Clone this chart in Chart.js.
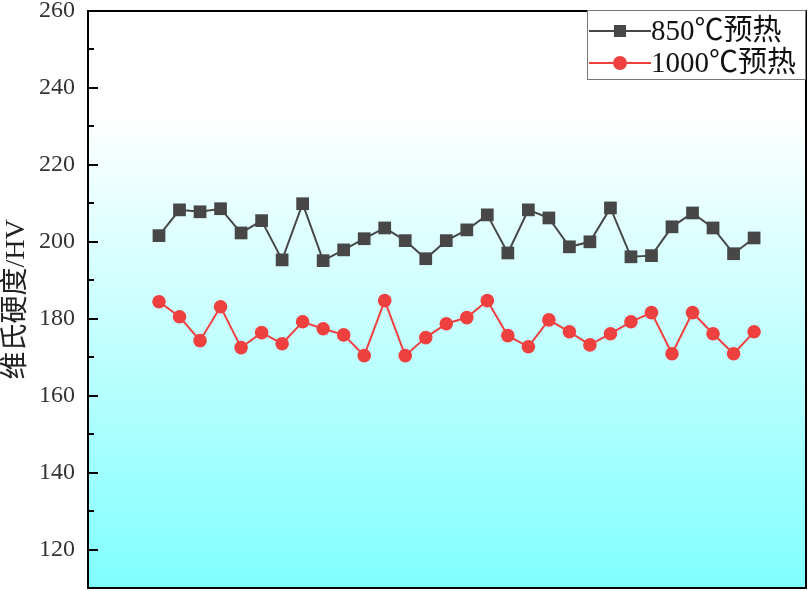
<!DOCTYPE html>
<html>
<head>
<meta charset="utf-8">
<script src="https://cdn.jsdelivr.net/npm/chart.js@4"></script>
<style>
  html, body { margin: 0; padding: 0; background: #fff; overflow: hidden; }
  #wrap { position: relative; width: 809px; height: 591px; }
  canvas { display: block; }
</style>
</head>
<body>
<div id="wrap"><canvas id="grafico"></canvas></div>
<script>
// dados
const pontos = [1,2,3,4,5,6,7,8,9,10,11,12,13,14,15,16,17,18,19,20,21,22,23,24,25,26,27,28,29,30];
const dureza850 = [201.6,208.3,207.8,208.6,202.3,205.5,195.3,209.9,195.1,197.9,200.8,203.6,200.3,195.6,200.3,
                   203.1,207.0,197.1,208.3,206.2,198.7,200.0,208.8,196.1,196.4,203.9,207.5,203.6,196.9,201.0];
const dureza1000 = [184.4,180.5,174.3,183.1,172.5,176.4,173.5,179.2,177.4,175.8,170.4,184.7,170.4,175.1,178.7,
                    180.3,184.7,175.6,172.7,179.7,176.6,173.2,176.1,179.2,181.6,170.9,181.6,176.1,170.9,176.6];
const rotulos = ['850℃预热', '1000℃预热'];
const tituloY = '维氏硬度/HV';

const fonteSerif = '"Liberation Serif", "Noto Sans CJK SC", serif';

const fundo = {
  id: 'fundo',
  beforeDraw(chart) {
    const { ctx, chartArea: a } = chart;
    const g = ctx.createLinearGradient(0, a.top, 0, a.bottom);
    g.addColorStop(0, '#ffffff');
    g.addColorStop(0.18, '#ffffff');
    g.addColorStop(1, '#80ffff');
    ctx.save();
    ctx.fillStyle = g;
    ctx.fillRect(a.left, a.top, a.right - a.left, a.bottom - a.top);
    ctx.restore();
  }
};

const moldura = {
  id: 'moldura',
  afterDatasetsDraw(chart) {
    const { ctx, chartArea: a } = chart;
    const y = chart.scales.y;
    ctx.save();
    ctx.strokeStyle = '#000';
    ctx.lineWidth = 2;
    ctx.strokeRect(a.left, a.top, a.right - a.left, a.bottom - a.top);
    // ticks para dentro
    for (let v = 110; v <= 260; v += 10) {
      const py = Math.round(y.getPixelForValue(v));
      const len = (v % 20 === 0) ? 10 : 6;
      ctx.beginPath();
      ctx.moveTo(a.left, py);
      ctx.lineTo(a.left + len, py);
      ctx.stroke();
    }
    ctx.restore();
  }
};

const legenda = {
  id: 'legenda',
  afterDraw(chart) {
    const { ctx, chartArea: a } = chart;
    const x0 = 587, y0 = a.top - 1, w = a.right - x0, h = 70;
    ctx.save();
    ctx.fillStyle = '#fff';
    ctx.fillRect(x0, y0, w, h);
    ctx.strokeStyle = '#777';
    ctx.lineWidth = 1;
    ctx.strokeRect(x0 + 0.5, y0 + 0.5, w - 1, h - 1);
    chart.data.datasets.forEach((ds, i) => {
      const cy = y0 + 21 + i * 32;
      ctx.strokeStyle = ds.borderColor;
      ctx.lineWidth = 2;
      ctx.beginPath();
      ctx.moveTo(x0 + 2, cy);
      ctx.lineTo(x0 + 64, cy);
      ctx.stroke();
      ctx.fillStyle = ds.borderColor;
      if (ds.pointStyle === 'rect') {
        ctx.fillRect(x0 + 27, cy - 6, 12, 12);
      } else {
        ctx.beginPath();
        ctx.arc(x0 + 33, cy, 7, 0, Math.PI * 2);
        ctx.fill();
      }
      ctx.fillStyle = '#111';
      ctx.font = '29px ' + fonteSerif;
      ctx.textBaseline = 'middle';
      ctx.fillText(ds.label, x0 + 64, cy + 1);
    });
    ctx.restore();
  }
};

const ctx = document.getElementById('grafico').getContext('2d');
const grafico = new Chart(ctx, {
  type: 'line',
  data: {
    datasets: [{
      label: rotulos[0],
      data: pontos.map((p, i) => ({ x: p, y: dureza850[i] })),
      borderColor: '#474747',
      backgroundColor: '#474747',
      borderWidth: 2,
      pointStyle: 'rect',
      pointRadius: 9,
      pointBorderWidth: 0,
      tension: 0
    }, {
      label: rotulos[1],
      data: pontos.map((p, i) => ({ x: p, y: dureza1000[i] })),
      borderColor: '#ef4040',
      backgroundColor: '#ef4040',
      borderWidth: 2,
      pointStyle: 'circle',
      pointRadius: 6.8,
      pointBorderWidth: 0,
      tension: 0
    }]
  },
  options: {
    responsive: true,
    maintainAspectRatio: false,
    animation: false,
    layout: { padding: { top: 0, left: 0, right: 3, bottom: 0 }, autoPadding: false },
    plugins: { legend: { display: false }, tooltip: { enabled: false } },
    scales: {
      x: {
        type: 'linear',
        min: -2.46,
        max: 32.53,
        display: false
      },
      y: {
        min: 110,
        max: 260,
        afterFit(scale) {
          scale.width = 88;
          scale.paddingTop = 11;
          scale.paddingBottom = 3;
        },
        grid: { display: false, drawTicks: false, tickLength: 0 },
        border: { display: false },
        ticks: {
          stepSize: 20,
          padding: 13,
          color: '#333',
          font: { family: fonteSerif, size: 24 },
          callback: v => (v % 20 === 0 && v >= 120) ? v : ''
        },
        title: {
          display: true,
          text: tituloY,
          color: '#222',
          font: { family: fonteSerif, size: 28 },
          padding: { top: 0, bottom: 0 }
        }
      }
    }
  },
  plugins: [fundo, moldura, legenda]
});
</script>
</body>
</html>
